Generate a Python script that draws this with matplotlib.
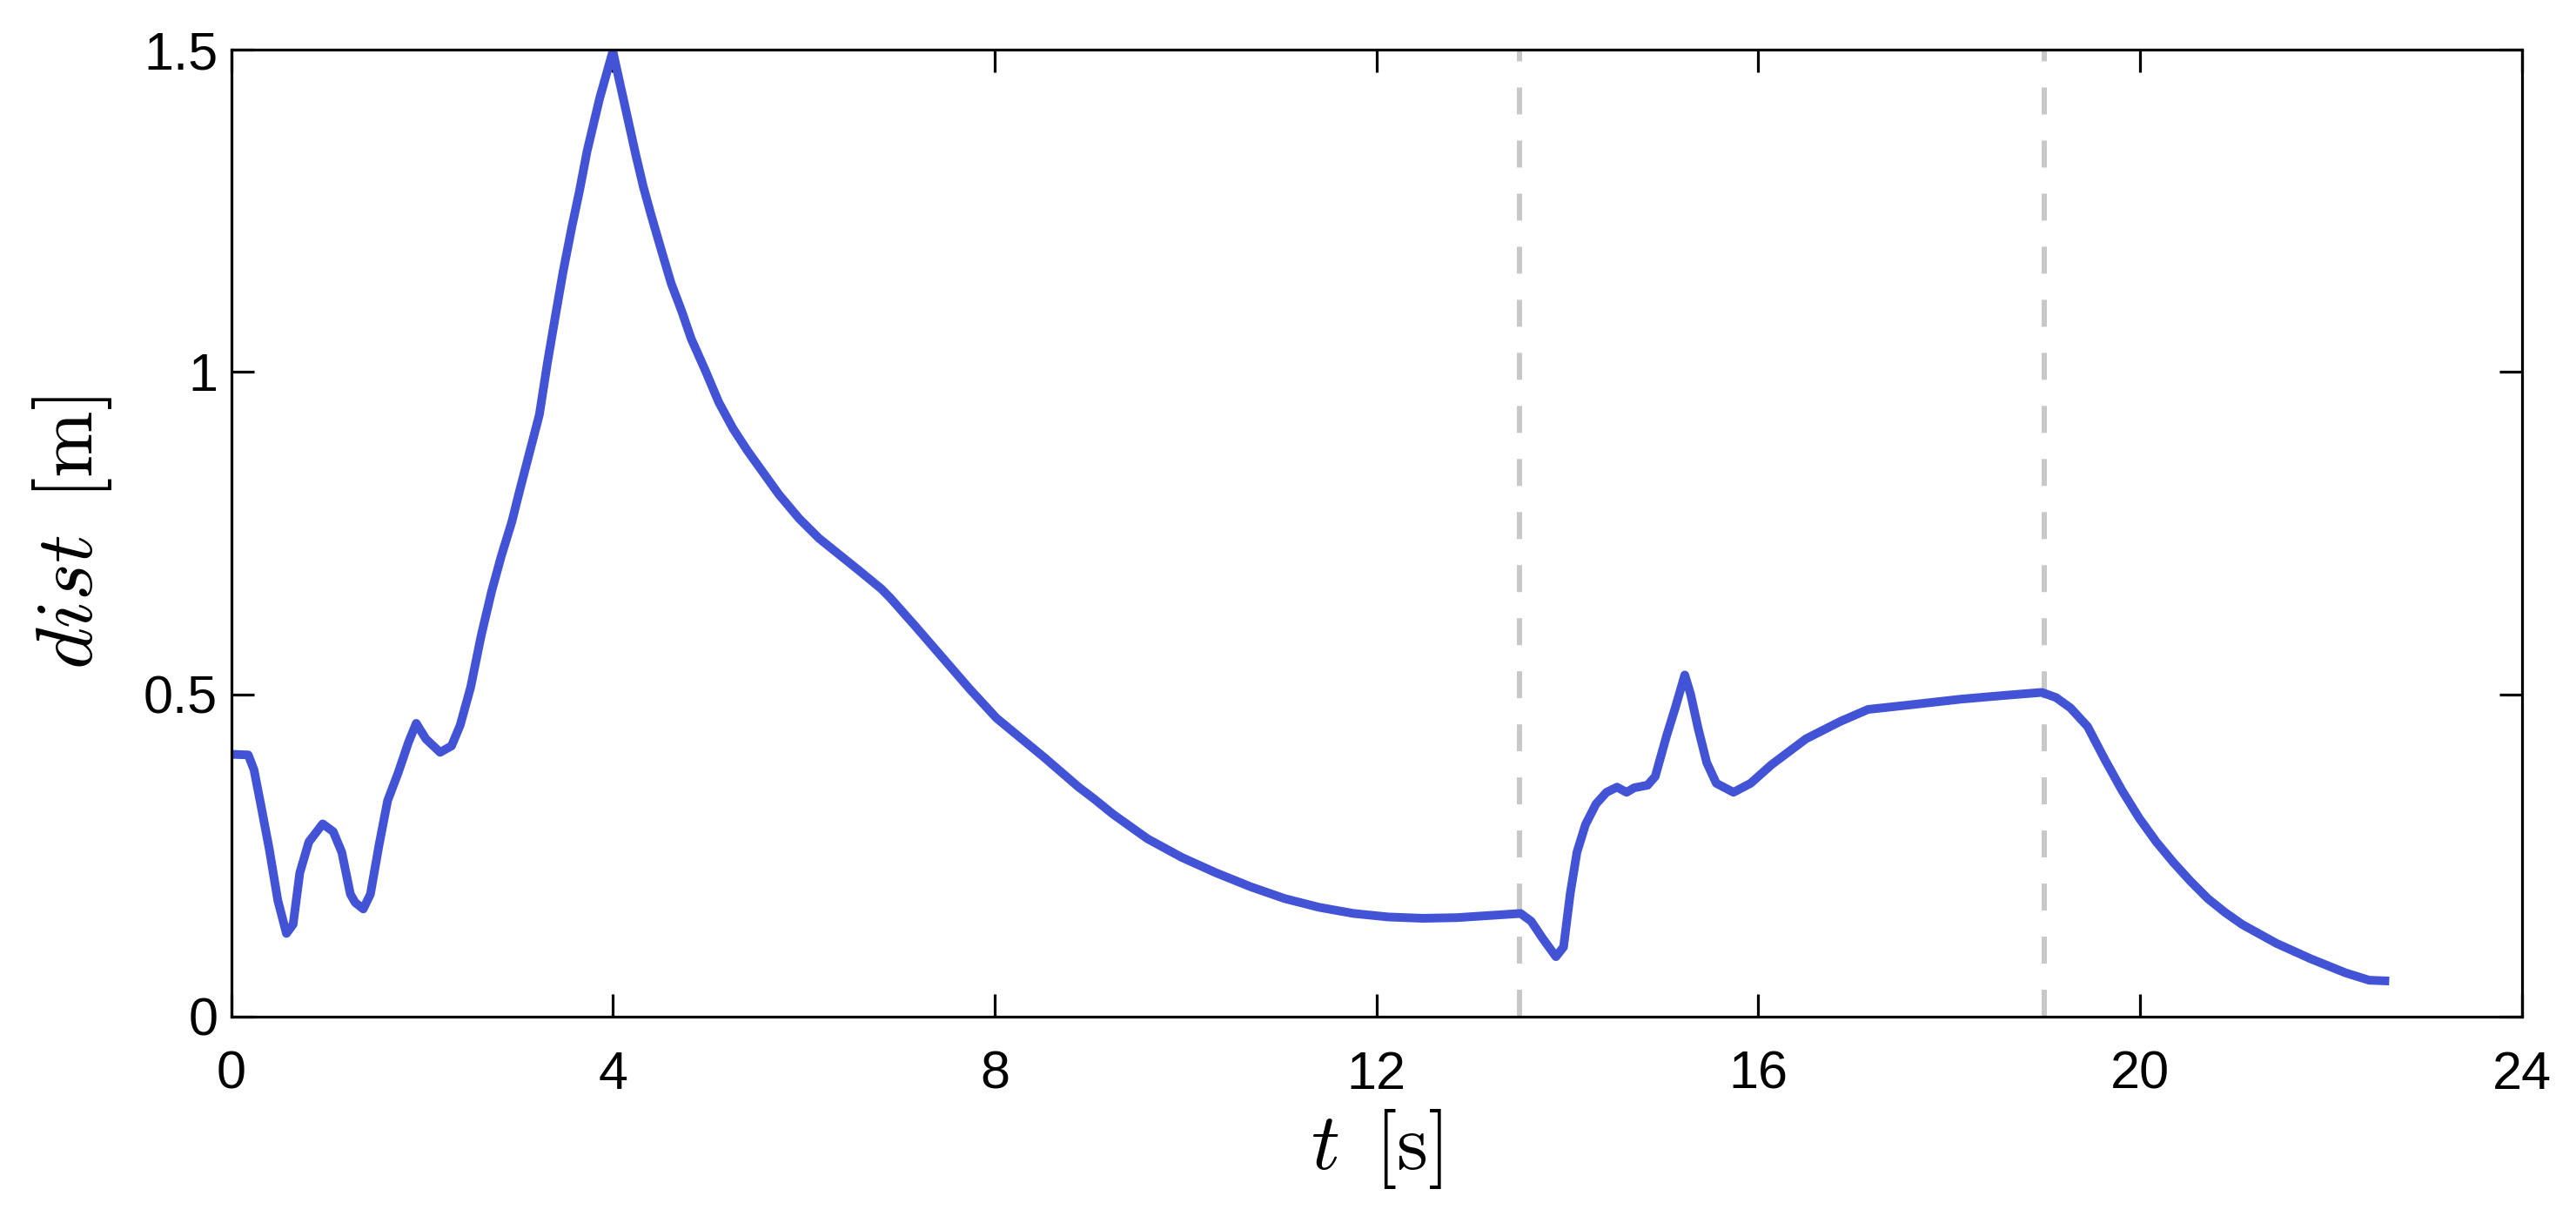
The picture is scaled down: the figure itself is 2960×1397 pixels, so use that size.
import matplotlib
matplotlib.use("Agg")
from matplotlib import pyplot as plt

# distance vs time
t = [0.00, 0.18, 0.24, 0.31, 0.40, 0.49, 0.58, 0.65, 0.72, 0.815,
     0.96, 1.07, 1.16, 1.25, 1.30, 1.385, 1.46, 1.55, 1.64, 1.75,
     1.86, 1.94, 2.04, 2.19, 2.31, 2.40, 2.51, 2.62, 2.73, 2.83,
     2.94, 3.03, 3.23, 3.315, 3.40, 3.48, 3.57, 3.65, 3.73, 3.86,
     4.00, 4.05, 4.11, 4.24, 4.32, 4.40, 4.51, 4.61, 4.72, 4.82,
     4.97, 5.11, 5.26, 5.41, 5.575, 5.74, 5.95, 6.16, 6.37, 6.58,
     6.81, 6.91, 7.17, 7.46, 7.74, 8.02, 8.52, 8.88, 9.04, 9.24,
     9.60, 9.96, 10.32, 10.68, 11.04, 11.40, 11.76, 12.12, 12.48, 12.84,
     13.20, 13.51, 13.62, 13.74, 13.88, 13.96, 14.03, 14.10, 14.19, 14.30,
     14.41, 14.52, 14.62, 14.70, 14.84, 14.92, 14.97, 15.04, 15.13, 15.23,
     15.29, 15.37, 15.46, 15.56, 15.74, 15.92, 16.14, 16.50, 16.86, 17.15,
     17.58, 18.12, 18.55, 18.97, 19.12, 19.27, 19.45, 19.63, 19.81, 19.99,
     20.17, 20.35, 20.53, 20.71, 20.89, 21.07, 21.43, 21.79, 22.15, 22.40,
     22.61]
dist = [0.407, 0.406, 0.383, 0.330, 0.260, 0.180, 0.129, 0.143, 0.223, 0.271,
        0.299, 0.287, 0.255, 0.190, 0.177, 0.167, 0.190, 0.266, 0.335, 0.378,
        0.426, 0.455, 0.431, 0.410, 0.420, 0.452, 0.511, 0.591, 0.660, 0.714,
        0.767, 0.820, 0.934, 1.015, 1.089, 1.157, 1.225, 1.281, 1.343, 1.424,
        1.498, 1.464, 1.424, 1.337, 1.287, 1.244, 1.188, 1.138, 1.095, 1.052,
        1.002, 0.953, 0.912, 0.878, 0.844, 0.810, 0.773, 0.742, 0.717, 0.692,
        0.664, 0.649, 0.6055, 0.556, 0.508, 0.463, 0.402, 0.356, 0.338, 0.314,
        0.276, 0.247, 0.223, 0.2015, 0.183, 0.1695, 0.160, 0.1546, 0.1525, 0.1535,
        0.157, 0.160, 0.148, 0.1215, 0.093, 0.108, 0.191, 0.255, 0.298, 0.330,
        0.348, 0.356, 0.348, 0.355, 0.359, 0.3725, 0.399, 0.436, 0.479, 0.530,
        0.5006, 0.447, 0.394, 0.362, 0.348, 0.362, 0.391, 0.431, 0.458, 0.4766,
        0.4835, 0.4925, 0.498, 0.503, 0.495, 0.479, 0.450, 0.399, 0.351, 0.308,
        0.271, 0.239, 0.2097, 0.183, 0.1616, 0.1429, 0.1135, 0.0895, 0.068, 0.0564,
        0.0552]

switch_times = [13.5, 19.0]
xticks = [0, 4, 8, 12, 16, 20, 24]
yticks = [0, 0.5, 1, 1.5]
ytick_labels = ["0", "0.5", "1", "1.5"]

plt.rcParams['font.family'] = ['Liberation Sans', 'DejaVu Sans']
plt.rcParams['mathtext.fontset'] = 'cm'

fig = plt.figure(figsize=(29.6, 13.97), dpi=100)
ax = fig.add_axes([0.0897, 0.164, 0.8893, 0.795])

for ts in switch_times:
    ax.plot([ts, ts], [0, 1.5], color='#c8c8c8', lw=4.3,
            dashes=(22.3 / 4.3, 21.6 / 4.3), dash_capstyle='butt', zorder=1)

ax.plot(t, dist, color='#4353d6', lw=7.2, solid_joinstyle='round',
        solid_capstyle='butt', zorder=2)

ax.set_xlim(0, 24)
ax.set_ylim(0, 1.5)
ax.set_xticks(xticks)
ax.set_yticks(yticks)
ax.set_yticklabels(ytick_labels)

ax.tick_params(direction='in', length=18.5, width=2.3, top=True, right=True,
               labelsize=44, color='black')
ax.tick_params(axis='x', pad=28)
ax.tick_params(axis='y', pad=11)
for s in ax.spines.values():
    s.set_linewidth(2.3)

ax.set_xlabel(r'$t\enspace[\mathrm{s}]$', fontsize=66)
ax.set_ylabel(r'$dist\enspace[\mathrm{m}]$', fontsize=66)
ax.xaxis.set_label_coords(0.5, -0.094)
ax.yaxis.set_label_coords(-0.051, 0.5)

fig.savefig('out.png', dpi=100)
